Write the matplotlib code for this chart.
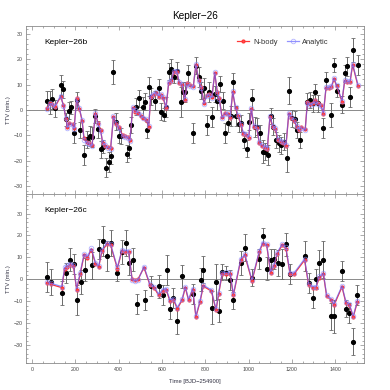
import matplotlib
matplotlib.use("Agg")
import matplotlib.pyplot as plt
from matplotlib.ticker import MultipleLocator

plt.rcParams['font.family'] = ['Liberation Sans', 'DejaVu Sans']

# ---- Kepler-26b ----
model_t_b = [71, 83, 93, 105, 132, 145, 157, 163, 172, 188,
             194, 206, 219, 231, 240, 252, 265, 277, 293, 305,
             317, 326, 338, 351, 363, 376, 388, 400, 419, 431,
             443, 452, 465, 477, 490, 502, 514, 526, 539, 548,
             560, 573, 585, 594, 606, 619, 631, 643, 656, 668,
             680, 693, 705, 717, 730, 745, 757, 770, 782, 794,
             807, 819, 831, 844, 856, 865, 878, 890, 903, 915,
             927, 940, 952, 965, 976, 989, 1001, 1013, 1025, 1038,
             1050, 1062, 1075, 1087, 1099, 1112, 1124, 1136, 1149, 1161,
             1173, 1186, 1198, 1210, 1223, 1235, 1244, 1262, 1272, 1284,
             1296, 1309, 1321, 1334, 1346, 1358, 1370, 1383, 1395, 1407,
             1432, 1444, 1457, 1469, 1481, 1506]
nbody_b = [0.7, 2.9, 2.4, 1.1, 5.2, 2.0, -3.7, -6.6, -5.0, -5.5,
           -7.2, 4.6, 0.3, -4.2, -11.2, -12.5, -13.0, -13.8, -1.6, -5.3,
           -7.9, -13.1, -14.2, -14.6, -14.9, -2.9, -5.5, -6.6, -10.0, -10.2,
           -10.5, -11.8, 0.7, -0.6, -1.3, -2.4, -3.3, -3.8, -6.6, 5.2,
           5.9, 6.6, 5.2, 5.9, 4.6, 0.7, 10.5, 11.2, 15.1, 15.1,
           10.5, 9.8, 3.9, 10.5, 9.8, 9.4, 17.7, 11.8, 8.9, 2.9,
           5.9, 6.3, 5.2, 14.4, 6.9, 4.6, -2.9, -1.3, -1.6, -3.3,
           6.9, 0.7, -2.4, -5.9, -9.4, -9.8, -11.2, 0.3, -6.6, -7.2,
           -13.1, -14.2, -14.8, -15.2, -2.9, -6.6, -7.6, -11.8, -12.5, -13.1,
           -14.2, -1.6, -3.3, -4.2, -6.6, -7.9, -6.6, -7.6, 3.3, 2.4,
           2.9, 3.9, 2.6, 2.0, -1.6, 8.5, 8.5, 8.9, 12.1, 9.4,
           3.3, 11.2, 10.8, 10.8, 17.7, 9.4]
analytic_b = [0.4, 2.6, 2.1, 1.4, 5.6, 1.6, -3.3, -6.9, -5.4, -6.0,
              -7.5, 4.2, 0.6, -3.8, -11.6, -12.9, -13.4, -14.2, -1.2, -5.7,
              -8.3, -12.7, -13.8, -15.0, -15.3, -2.5, -5.1, -7.0, -10.4, -10.6,
              -10.9, -12.2, 1.0, -0.2, -1.0, -2.0, -3.0, -3.4, -6.2, 5.6,
              6.3, 7.0, 5.6, 6.3, 5.0, 1.0, 10.9, 11.6, 15.5, 15.5,
              10.9, 10.2, 4.3, 10.1, 9.4, 9.0, 18.1, 11.4, 8.5, 2.5,
              5.5, 5.9, 4.8, 14.8, 6.5, 4.2, -3.3, -1.7, -1.2, -2.9,
              7.3, 1.0, -2.0, -5.5, -9.0, -9.4, -10.8, 0.7, -6.2, -6.8,
              -12.7, -13.8, -14.4, -14.8, -2.5, -6.2, -7.2, -11.4, -12.1, -12.7,
              -13.8, -1.2, -2.9, -3.8, -6.2, -7.5, -7.0, -8.0, 2.9, 2.0,
              2.5, 3.5, 2.2, 1.6, -1.2, 8.9, 8.9, 9.3, 12.5, 9.8,
              3.7, 11.6, 11.2, 11.2, 18.1, 9.8]

obs_t_b = [71, 83, 93, 105, 132, 142, 157, 169, 182, 194,
           206, 222, 240, 252, 268, 277, 293, 305, 317, 329,
           342, 354, 366, 376, 388, 400, 413, 437, 446, 459,
           480, 496, 511, 523, 533, 542, 551, 566, 585, 597,
           609, 619, 634, 643, 656, 671, 686, 696, 708, 720,
           745, 757, 773, 782, 794, 807, 819, 831, 844, 856,
           868, 881, 893, 905, 918, 930, 942, 955, 967, 979,
           992, 1004, 1016, 1029, 1041, 1053, 1066, 1078, 1090, 1103,
           1115, 1127, 1140, 1152, 1164, 1176, 1189, 1201, 1213, 1226,
           1238, 1272, 1284, 1296, 1309, 1321, 1346, 1358, 1383, 1395,
           1407, 1432, 1444, 1457, 1469, 1484, 1506]
obs_b = [3.7, 2.9, 4.2, 0.7, 9.8, 8.1, -3.7, -0.3, 1.0, -9.2,
         3.9, -7.9, -17.7, -11.5, -10.2, -10.5, -2.4, -7.6, -15.5, -14.4,
         -22.6, -20.3, -18.1, 14.9, -4.6, -10.2, -10.2, -17.1, -14.8, -5.9,
         1.3, 4.6, 1.3, 3.3, -7.9, 9.2, 5.2, 3.7, 8.5, -0.7,
         -1.9, 1.3, 15.1, 16.1, 13.1, 15.5, 3.3, 7.2, 7.2, 14.4,
         -8.9, 17.4, 13.1, 7.6, 8.5, -5.9, 6.9, -2.9, 6.3, 3.7,
         10.2, 3.7, -9.2, -5.3, -2.4, 10.8, -2.4, -5.5, -5.3, -11.8,
         -15.2, -4.6, 4.2, -6.6, -6.6, -9.2, -16.4, -16.4, -17.7, -2.4,
         -6.6, -11.8, -13.1, -13.8, -12.5, -19.0, 7.6, -3.3, -3.7, -7.9,
         -11.8, 3.3, 3.9, 2.6, 6.9, 2.6, -7.2, 11.8, -1.9, 17.7,
         7.6, 2.0, 14.4, 17.1, 5.2, 23.6, 17.7]
err_b = [3.7, 4.6, 3.9, 3.3, 3.9, 3.3, 2.6, 3.3, 2.6, 3.9,
         3.3, 3.3, 3.9, 3.3, 3.9, 3.9, 2.6, 3.3, 3.3, 2.6,
         3.9, 3.9, 3.3, 4.6, 3.3, 2.6, 3.3, 3.3, 3.9, 3.3,
         3.3, 3.3, 3.9, 3.3, 3.3, 3.9, 3.3, 3.9, 3.7, 3.3,
         2.6, 3.9, 3.3, 3.9, 2.6, 3.3, 5.9, 3.9, 3.9, 3.3,
         3.9, 3.3, 3.9, 3.3, 3.9, 3.9, 3.9, 3.9, 3.3, 3.9,
         3.3, 3.3, 3.9, 3.3, 3.9, 3.9, 3.9, 3.3, 3.3, 3.3,
         3.3, 3.3, 3.9, 3.9, 3.3, 3.3, 4.6, 3.3, 3.9, 3.3,
         3.3, 3.3, 3.3, 3.3, 3.3, 5.2, 5.2, 3.3, 3.3, 3.3,
         3.3, 3.3, 3.3, 3.3, 3.3, 3.3, 3.9, 3.3, 4.6, 2.6,
         2.6, 3.3, 3.3, 3.9, 3.9, 4.6, 3.9]

# ---- Kepler-26c ----
model_t_c = [71, 86, 137, 151, 163, 176, 191, 206, 222, 240,
             256, 274, 293, 308, 323, 345, 363, 394, 415, 431,
             446, 462, 477, 490, 517, 545, 563, 585, 603, 619,
             637, 653, 671, 693, 708, 723, 742, 757, 776, 791,
             828, 850, 862, 878, 896, 915, 930, 964, 983, 1016,
             1050, 1065, 1084, 1102, 1118, 1133, 1155, 1173, 1192, 1210,
             1259, 1278, 1296, 1312, 1327, 1346, 1361, 1380, 1395, 1432,
             1450, 1466, 1484, 1503]
nbody_c = [-1.7, -2.3, -3.8, 4.9, 5.6, 6.4, 5.9, -4.7, 2.3, 10.9,
           9.9, 13.5, 7.1, 5.6, 12.9, 15.9, 15.5, 4.9, 12.9, 12.5,
           12.5, 0.3, -0.2, 0.2, 5.3, -2.7, -3.8, -7.3, -5.3, -4.7,
           -9.9, -9.3, -13.4, -9.6, -3.8, -9.6, -4.7, -17.2, -10.3, -3.2,
           -5.3, -14.1, -6.8, 2.3, 2.6, 2.3, -7.3, 8.7, 10.9, -0.8,
           12.5, 16.2, 15.5, 2.9, 5.9, 11.7, 15.5, 14.0, 2.3, 2.3,
           8.7, -2.7, -3.8, -3.8, 0.8, 2.3, -7.7, -9.3, -11.8, -3.5,
           -10.8, -11.8, -17.2, -10.3]
analytic_c = [-1.2, -1.8, -3.3, 5.5, 6.3, 7.1, 6.5, -4.2, 2.9, 11.4,
              10.4, 14.1, 7.6, 6.1, 13.4, 16.5, 16.0, 5.4, 13.4, 13.0,
              13.0, -0.3, -0.6, -0.3, 5.8, -2.3, -3.3, -6.8, -4.8, -4.2,
              -9.4, -8.8, -12.9, -9.1, -3.3, -9.1, -4.2, -16.7, -9.8, -2.7,
              -4.8, -13.6, -6.3, 2.8, 3.1, 2.8, -6.8, 9.2, 11.4, -0.3,
              13.0, 16.7, 16.0, 3.4, 6.4, 12.2, 16.0, 14.5, 2.8, 2.8,
              9.3, -2.2, -3.3, -3.3, 1.3, 2.8, -7.2, -8.8, -11.3, -3.0,
              -10.3, -11.3, -16.7, -9.8]

obs_t_c = [71, 86, 137, 155, 176, 194, 206, 225, 243, 277,
           311, 326, 345, 363, 394, 415, 434, 449, 465, 483,
           520, 551, 585, 606, 622, 637, 653, 671, 693, 742,
           779, 791, 831, 850, 862, 878, 896, 915, 930, 964,
           983, 1016, 1050, 1065, 1084, 1102, 1118, 1136, 1155, 1173,
           1192, 1259, 1278, 1296, 1312, 1327, 1346, 1380, 1395, 1432,
           1450, 1466, 1484, 1503]
obs_c = [1.1, -1.2, -6.2, 2.9, 9.0, 6.8, -9.6, -1.2, 4.4, 6.4,
         14.0, 17.5, 10.5, 16.6, 2.9, 12.5, 16.6, 7.4, 9.0, -11.4,
         -9.3, -3.2, -3.2, -7.3, 4.1, -13.4, -8.4, -19.0, 1.4, -6.8,
         -0.2, 4.4, -12.9, -1.2, -14.4, 3.3, 2.9, -0.2, -9.6, 7.4,
         14.4, 0.8, 9.4, 19.6, 4.9, 9.0, 9.4, 7.4, 7.1, 15.9,
         2.3, 10.5, -1.7, -8.4, 0.3, 7.4, 9.0, -16.9, -16.9, 3.8,
         -13.4, -15.3, -28.5, -7.3]
err_c = [6.8, 5.8, 5.3, 4.6, 5.3, 4.6, 6.8, 5.3, 5.3, 6.1,
         4.6, 6.8, 6.8, 6.1, 3.8, 5.3, 6.1, 5.3, 5.3, 4.6,
         4.6, 4.6, 5.3, 4.6, 6.8, 4.6, 4.6, 6.1, 5.3, 4.6,
         5.3, 6.1, 7.6, 8.4, 5.3, 3.8, 3.0, 4.6, 3.8, 5.3,
         6.1, 3.8, 4.6, 3.8, 5.3, 4.6, 4.6, 6.1, 6.8, 5.3,
         4.6, 6.8, 4.6, 4.6, 4.6, 6.1, 8.4, 6.1, 7.6, 4.6,
         3.8, 4.6, 6.1, 4.6]

red = '#ff3838'
blue = '#5a5aff'
gray = '#8a8a8a'

fig = plt.figure(figsize=(3.9, 3.9), dpi=100)
ax1 = fig.add_axes([0.0667, 0.5026, 0.8674, 0.4308])
ax2 = fig.add_axes([0.0667, 0.0685, 0.8674, 0.4341])

panels = [
    (ax1, 'Kepler\u221226b', model_t_b, nbody_b, analytic_b, obs_t_b, obs_b, err_b, (-33, 33)),
    (ax2, 'Kepler\u221226c', model_t_c, nbody_c, analytic_c, obs_t_c, obs_c, err_c, (-38.3, 38.9)),
]

for ax, name, mt, nb, an, ot, ov, oe, ylim in panels:
    ax.axhline(0, color=gray, lw=0.7, zorder=1)
    ax.errorbar(ot, ov, yerr=oe, fmt='o', color='black', ms=2.7,
                ecolor='#6a6a6a', elinewidth=0.7, capsize=1.1, capthick=0.6, zorder=2)
    ax.plot(mt, nb, '-', color=red, lw=0.9, marker='o', ms=2.0,
            mec=red, mfc='#ff5050', zorder=3, label='N-body')
    ax.plot(mt, an, '-', color=blue, lw=0.9, alpha=0.65, marker='o', ms=3.3,
            mfc='none', mec='#8c8cff', mew=0.6, zorder=4, label='Analytic')
    ax.set_xlim(-28, 1535)
    ax.set_ylim(*ylim)
    ax.xaxis.set_major_locator(MultipleLocator(200))
    ax.xaxis.set_minor_locator(MultipleLocator(50))
    ax.yaxis.set_major_locator(MultipleLocator(10))
    ax.yaxis.set_minor_locator(MultipleLocator(2))
    ax.tick_params(which='both', direction='in', top=True, right=True,
                   colors=gray, labelcolor='#444444', labelsize=3.8, width=0.5, pad=2.5)
    ax.tick_params(which='major', length=3)
    ax.tick_params(which='minor', length=1.6)
    for s in ax.spines.values():
        s.set_color(gray)
        s.set_linewidth(0.6)
    ax.set_ylabel('TTV (min.)', fontsize=4.2, color='#334', labelpad=2)
    ax.text(0.053, 0.9, name, transform=ax.transAxes, fontsize=6.0,
            ha='left', va='center')

ax1.tick_params(labelbottom=False)
ax1.legend(loc='center right', bbox_to_anchor=(0.915, 0.905),
           ncol=2, frameon=False, fontsize=5.4, handlelength=1.6,
           columnspacing=1.2, handletextpad=0.5, labelcolor='#333333')
ax2.set_xlabel('Time [BJD\u2212254900]', fontsize=4.2, color='#334', labelpad=5)

fig.text(0.5, 0.959, 'Kepler\u221226', ha='center', va='center', fontsize=7.2)

fig.savefig('out.png', dpi=100)
